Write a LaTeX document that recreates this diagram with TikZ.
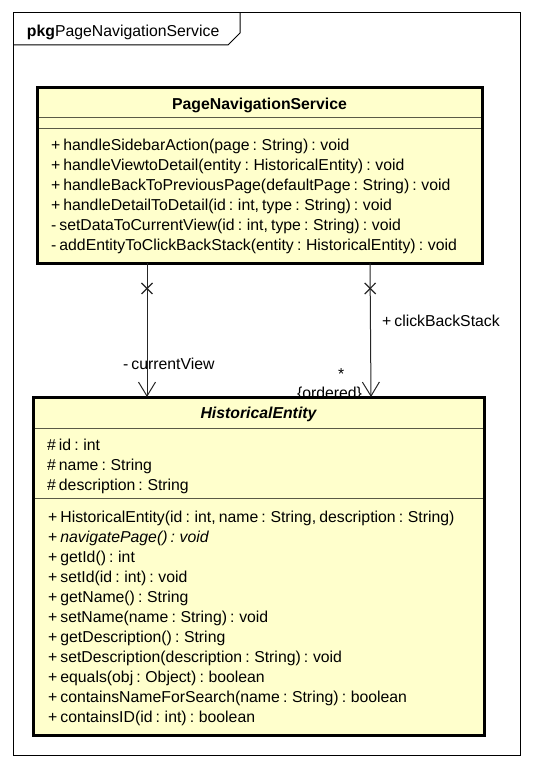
\documentclass[tikz,border=0pt]{standalone}
\usepackage{fontspec}
\setmainfont{Liberation Sans}[WordSpace=0.72]
\usetikzlibrary{arrows.meta,shapes.misc}
\definecolor{classfill}{RGB}{255,255,204}
\definecolor{sepline}{RGB}{90,90,70}
\begin{document}
\begin{tikzpicture}[x=1pt,y=-1pt,
  every node/.style={inner sep=0pt, outer sep=0pt, font=\fontsize{15.8}{18}\selectfont},
  frameline/.style={draw=black, line width=1pt},
  classbox/.style={draw=black, line width=3pt, fill=classfill, anchor=north west},
  sepline/.style={draw=sepline, line width=1pt},
  member/.style={anchor=base west},
  assoc/.style={draw=black!85, line width=1pt, -{Straight Barb[length=14pt,width=17pt,line width=1pt]}},
  navmark/.style={cross out, draw=black!85, line width=1.2pt, minimum size=11pt, sloped}
]
\useasboundingbox (0,0) rectangle (533,768);

% package frame with its name tab
\node[frameline, anchor=north west, minimum width=507pt, minimum height=742pt] (pkg) at (13,13) {};
\draw[frameline] (240,13) -- (240,33) -- (228,45) -- (13,45);
\node[member] (pkgname) at (27,37) {\textbf{pkg}PageNavigationService};

% class PageNavigationService
\node[classbox, minimum width=445pt, minimum height=176pt] (svc) at (37,87) {};
\draw[sepline] (38.5,117) -- (480.5,117);
\draw[sepline] (38.5,128) -- (480.5,128);
\node[anchor=base] (svctitle) at (259.5,109) {\bfseries PageNavigationService};
\node[member] (m1) at (51,150.5) {+ handleSidebarAction(page : String) : void};
\node[member] (m2) at (51,170.5) {+ handleViewtoDetail(entity : HistoricalEntity) : void};
\node[member] (m3) at (51,190.5) {+ handleBackToPreviousPage(defaultPage : String) : void};
\node[member] (m4) at (51,210.5) {+ handleDetailToDetail(id : int, type : String) : void};
\node[member] (m5) at (51,230.5) {- setDataToCurrentView(id : int, type : String) : void};
\node[member] (m6) at (51,250.5) {- addEntityToClickBackStack(entity : HistoricalEntity) : void};

% association end labels
\node[member] (lcur) at (123,369) {- currentView};
\node[member] (lstack) at (382,326) {+ clickBackStack};
\node[member] (lmult) at (338,379) {*};
\node[member] (lord) at (297,398) {\{ordered\}};

% class HistoricalEntity (abstract)
\node[classbox, minimum width=451pt, minimum height=338pt] (ent) at (33,397) {};
\draw[sepline] (34.5,428) -- (482.5,428);
\draw[sepline] (34.5,498) -- (482.5,498);
\node[anchor=base] (enttitle) at (258.5,418.5) {\bfseries\itshape HistoricalEntity};
\node[member] (a1) at (47,450) {\# id : int};
\node[member] (a2) at (47,470) {\# name : String};
\node[member] (a3) at (47,490) {\# description : String};
\node[member] (e1) at (48,522) {+ HistoricalEntity(id : int, name : String, description : String)};
\node[member] (e2) at (48,542) {+ \itshape navigatePage() : void};
\node[member] (e3) at (48,562) {+ getId() : int};
\node[member] (e4) at (48,582) {+ setId(id : int) : void};
\node[member] (e5) at (48,602) {+ getName() : String};
\node[member] (e6) at (48,622) {+ setName(name : String) : void};
\node[member] (e7) at (48,642) {+ getDescription() : String};
\node[member] (e8) at (48,662) {+ setDescription(description : String) : void};
\node[member] (e9) at (48,682) {+ equals(obj : Object) : boolean};
\node[member] (e10) at (48,702) {+ containsNameForSearch(name : String) : boolean};
\node[member] (e11) at (48,722) {+ containsID(id : int) : boolean};

% navigable associations, non-navigable at the service end
\draw[assoc] ([xshift=110pt]svc.south west) -- node[navmark, pos=0.19] (x1) {} ([xshift=114pt]ent.north west);
\draw[assoc] ([xshift=333pt]svc.south west) -- node[navmark, pos=0.19] (x2) {} ([xshift=338pt]ent.north west);
\end{tikzpicture}
\end{document}
